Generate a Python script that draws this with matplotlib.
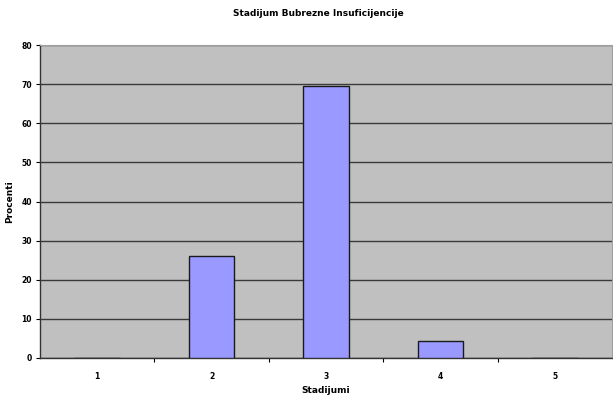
import matplotlib.pyplot as plt
from matplotlib.ticker import FixedLocator

stadijumi = ["1", "2", "3", "4", "5"]
procenti = [0.0, 26.1, 69.6, 4.3, 0.0]
y_ticks = [0, 10, 20, 30, 40, 50, 60, 70, 80]

fig = plt.figure(figsize=(6.13, 3.96), dpi=100)
ax = fig.add_axes([0.0653, 0.096, 0.933, 0.790])
ax.set_facecolor("#C0C0C0")

x = list(range(1, len(stadijumi) + 1))
ax.bar(x, procenti, width=0.4, color="#9999FF", edgecolor="#1a1a1a", linewidth=1.0, zorder=3)

ax.set_xlim(0.5, 5.5)
ax.set_ylim(0, 80)
ax.yaxis.set_major_locator(FixedLocator(y_ticks))
ax.set_yticklabels([str(t) for t in y_ticks])
ax.grid(axis="y", color="#3a3a3a", linewidth=1.0, zorder=1)

# category ticks sit between the bars, labels centred under them
ax.xaxis.set_major_locator(FixedLocator([1.5, 2.5, 3.5, 4.5]))
ax.xaxis.set_ticklabels([])
ax.xaxis.set_minor_locator(FixedLocator(x))
ax.xaxis.set_minor_formatter(plt.FixedFormatter(stadijumi))
ax.tick_params(axis="x", which="major", length=3, width=0.8, direction="out")
ax.tick_params(axis="x", which="minor", length=0, pad=10, labelsize=5.5)
ax.tick_params(axis="y", length=3, width=0.8, labelsize=5.5, pad=3)
for lbl in ax.get_yticklabels() + ax.get_xticklabels(minor=True):
    lbl.set_fontweight("bold")

for side in ["top", "right"]:
    ax.spines[side].set_color("#a0a0a0")
    ax.spines[side].set_linewidth(0.8)
for side in ["left", "bottom"]:
    ax.spines[side].set_color("#333333")
    ax.spines[side].set_linewidth(1.0)

ax.set_xlabel("Stadijumi", fontsize=6.5, fontweight="bold", labelpad=4)
ax.set_ylabel("Procenti", fontsize=6.5, fontweight="bold")
ax.yaxis.set_label_coords(-0.045, 0.5)
fig.text(0.52, 0.965, "Stadijum Bubrezne Insuficijencije", ha="center", va="center",
         fontsize=6.5, fontweight="bold")

fig.savefig("out.png", dpi=100)
